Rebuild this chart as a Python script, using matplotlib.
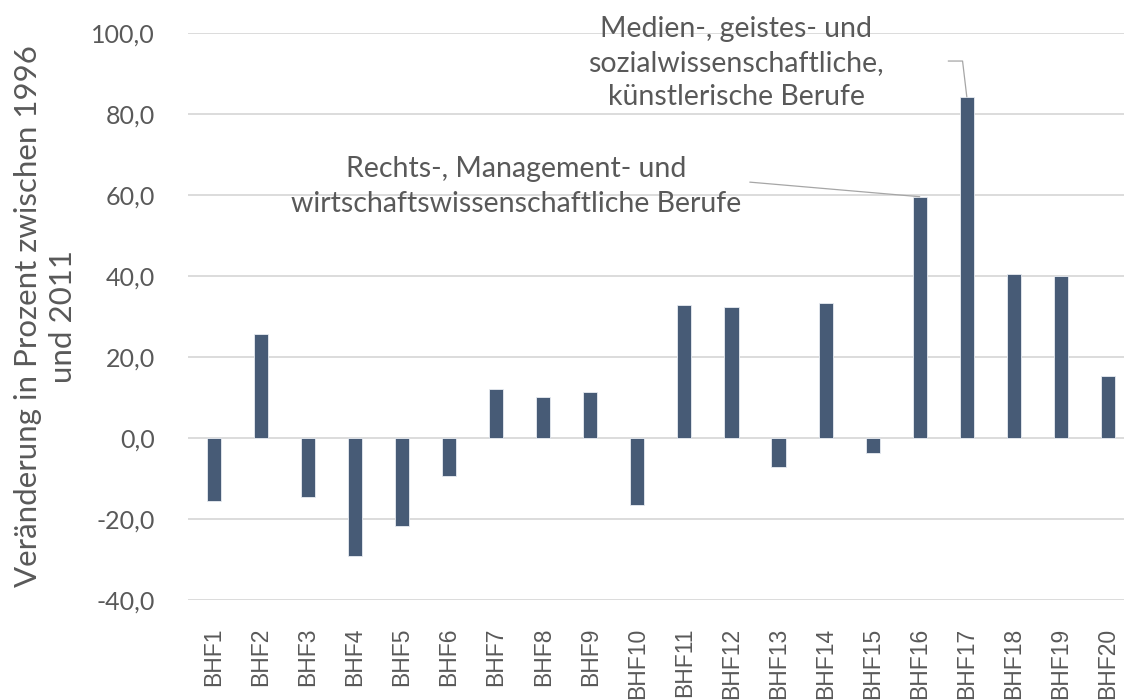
import matplotlib
matplotlib.use("Agg")
import matplotlib.pyplot as plt
from matplotlib.lines import Line2D

categories = ["BHF%d" % i for i in range(1, 21)]
values = [-15.7, 25.6, -14.6, -29.3, -21.7, -9.4, 12.1, 10.1, 11.3, -16.5,
          32.8, 32.3, -7.3, 33.2, -3.9, 59.5, 84.2, 40.3, 39.9, 15.2]
yticks = [-40, -20, 0, 20, 40, 60, 80, 100]
ylabel = "Veränderung in Prozent zwischen 1996\nund 2011"
note16 = "Rechts-, Management- und\nwirtschaftswissenschaftliche Berufe"
note17 = "Medien-, geistes- und\nsozialwissenschaftliche,\nkünstlerische Berufe"

txt = "#595959"
barc = "#475B76"
gridc = "#D9D9D9"
fam = ["Lato", "DejaVu Sans"]

fig = plt.figure(figsize=(11.24, 7.0), dpi=100)
ax = fig.add_axes([0.1675, 0.1433, 0.8325, 0.81])

x = list(range(len(categories)))
ax.bar(x, values, width=0.30, color=barc, edgecolor="#E8ECF2", linewidth=0.6, zorder=3)

ax.set_ylim(-40, 100)
ax.set_xlim(-0.54, 19.34)
ax.set_yticks(yticks)
ax.set_yticklabels([("%.1f" % v).replace(".", ",") for v in yticks],
                   fontsize=18, color=txt, family=fam)
ax.set_xticks(x)
ax.set_xticklabels(categories, rotation=90, fontsize=16.5, color=txt,
                   family=["Liberation Sans", "DejaVu Sans"], va="top")
ax.tick_params(axis="both", length=0)
ax.tick_params(axis="y", pad=24)
ax.tick_params(axis="x", pad=20)
ax.yaxis.grid(True, color=gridc, linewidth=1.3, zorder=0)
for s in ax.spines.values():
    s.set_visible(False)

ax.set_ylabel(ylabel, fontsize=22.5, color=txt, family=fam, linespacing=1.3, labelpad=10)

lc = "#A6A6A6"
ax.annotate("", xy=(15, values[15]), xytext=(11.39, 63.1),
            arrowprops=dict(arrowstyle="-", color=lc, lw=0.9, shrinkA=0, shrinkB=0),
            zorder=4)
ax.add_line(Line2D([15.61, 15.91, 16], [93.0, 93.0, values[16]], color=lc, lw=0.9,
                   clip_on=False, zorder=4))

ax.text(6.43, 62.1, note16, ha="center", va="center", fontsize=20.5, color=txt,
        family=fam, linespacing=1.42)
ax.text(11.1, 92.5, note17, ha="center", va="center", fontsize=20.5, color=txt,
        family=fam, linespacing=1.38, clip_on=False)

fig.savefig("out.png", dpi=100)
